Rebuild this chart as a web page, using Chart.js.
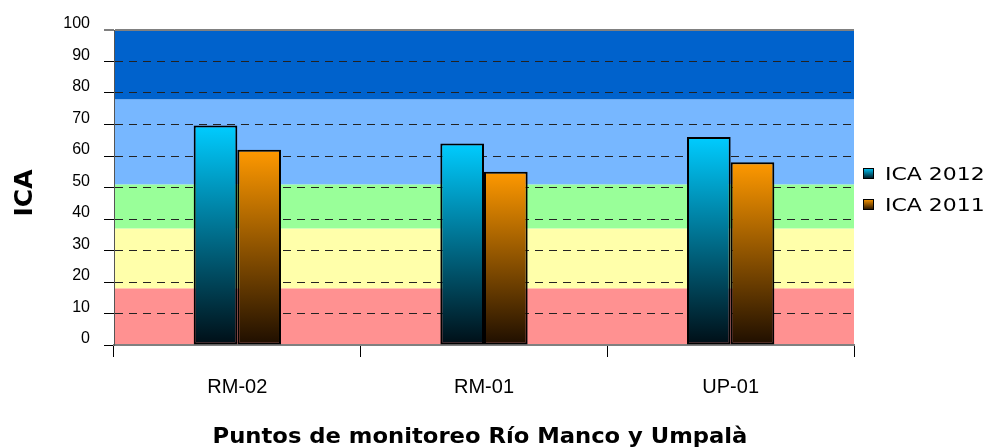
<!DOCTYPE html>
<html lang="es">
<head>
  <meta charset="UTF-8">
  <title>ICA - Puntos de monitoreo</title>
  <script src="https://cdn.jsdelivr.net/npm/chart.js"></script>
  <style>
    html, body { margin: 0; padding: 0; background: #ffffff; }
    #wrap { width: 993px; height: 447px; }
  </style>
</head>
<body>
  <div id="wrap"><canvas id="icaChart" width="993" height="447"></canvas></div>

  <script>
    // Data
    const puntos = ['RM-02', 'RM-01', 'UP-01'];
    const ica2012 = [69.7, 64, 66];
    const ica2011 = [62, 55, 58];
    const yTicks = [0, 10, 20, 30, 40, 50, 60, 70, 80, 90, 100];

    // quality bands behind the bars (ICA ranges)
    const bandEdges = [0, 18, 37, 51, 78, 100];
    const bandColors = ['#FF9191', '#FFFFAA', '#99FF99', '#77B7FF', '#0062CC'];

    const xTitle = 'Puntos de monitoreo Río Manco y Umpalà';
    const yTitle = 'ICA';

    const colors2012 = ['#00CCFF', '#000E16'];
    const colors2011 = ['#FF9900', '#1E0E00'];

    // vertical gradient from the top of each bar to the axis
    function barGradient(stops) {
      return (c) => {
        const chart = c.chart;
        if (!chart.chartArea || !c.parsed) return stops[0];
        const y = chart.scales.y;
        const g = chart.ctx.createLinearGradient(0, y.getPixelForValue(c.parsed.y), 0, y.getPixelForValue(0));
        g.addColorStop(0, stops[0]);
        g.addColorStop(1, stops[1]);
        return g;
      };
    }

    function stretchedText(ctx, text, x, y, font, sx, align) {
      ctx.save();
      ctx.font = font;
      ctx.fillStyle = '#000';
      ctx.textBaseline = 'alphabetic';
      ctx.textAlign = align || 'left';
      ctx.translate(x, y);
      ctx.scale(sx, 1);
      ctx.fillText(text, 0, 0);
      ctx.restore();
    }

    const bandsPlugin = {
      id: 'bands',
      beforeDraw(chart) {
        const { ctx, chartArea: a, scales: { y } } = chart;
        ctx.save();
        for (let i = 0; i < bandColors.length; i++) {
          const top = y.getPixelForValue(bandEdges[i + 1]);
          const bot = y.getPixelForValue(bandEdges[i]);
          ctx.fillStyle = bandColors[i];
          ctx.fillRect(a.left, top, a.right - a.left, bot - top);
        }
        ctx.restore();
      }
    };

    const textPlugin = {
      id: 'texts',
      afterDraw(chart) {
        const ctx = chart.ctx;
        // legend
        chart.data.datasets.forEach((ds, i) => {
          const top = 168 + i * 31;
          const g = ctx.createLinearGradient(0, top, 0, top + 11);
          g.addColorStop(0, ds.legendStops[0]);
          g.addColorStop(1, ds.legendStops[1]);
          ctx.save();
          ctx.fillStyle = g;
          ctx.fillRect(863, top, 11, 11);
          ctx.strokeStyle = '#000';
          ctx.lineWidth = 1;
          ctx.strokeRect(863.5, top + 0.5, 10, 10);
          ctx.restore();
          stretchedText(ctx, ds.label, 885, top + 12, '18px "DejaVu Sans"', 1.22);
        });

        // x axis title
        stretchedText(ctx, xTitle, 480, 443, 'bold 21px "DejaVu Sans"', 1.08, 'center');

        // y axis title, rotated
        ctx.save();
        ctx.translate(32, 193);
        ctx.rotate(-Math.PI / 2);
        ctx.font = 'bold 25px "DejaVu Sans"';
        ctx.fillStyle = '#000';
        ctx.textAlign = 'center';
        ctx.textBaseline = 'alphabetic';
        ctx.fillText(yTitle, 0, 0);
        ctx.restore();
      }
    };

    new Chart(document.getElementById('icaChart'), {
      type: 'bar',
      data: {
        labels: puntos,
        datasets: [
          {
            label: 'ICA 2012',
            data: ica2012,
            backgroundColor: barGradient(colors2012),
            legendStops: colors2012,
            borderColor: '#000',
            borderWidth: 2,
            borderSkipped: false
          },
          {
            label: 'ICA 2011',
            data: ica2011,
            backgroundColor: barGradient(colors2011),
            legendStops: colors2011,
            borderColor: '#000',
            borderWidth: 2,
            borderSkipped: false
          }
        ]
      },
      options: {
        responsive: false,
        animation: false,
        layout: { padding: { top: 30, right: 139, left: 0, bottom: 0 } },
        datasets: { bar: { categoryPercentage: 0.354, barPercentage: 1 } },
        plugins: {
          legend: { display: false },
          tooltip: { enabled: false }
        },
        scales: {
          x: {
            offset: true,
            afterFit: (s) => { s.height = 102; },
            grid: {
              offset: true,
              drawOnChartArea: false,
              drawTicks: true,
              tickLength: 12,
              tickColor: '#000',
              tickWidth: 1
            },
            border: { display: true, color: '#808080', width: 2 },
            ticks: {
              color: '#000',
              padding: 18,
              font: { family: '"Liberation Sans", Arial, sans-serif', size: 20 }
            }
          },
          y: {
            min: 0,
            max: 100,
            afterFit: (s) => { s.width = 114; },
            afterBuildTicks: (s) => { s.ticks = yTicks.map(v => ({ value: v })); },
            grid: {
              color: (c) => c.tick && c.tick.value === 100 ? '#808080' : (c.tick && c.tick.value === 0 ? 'rgba(0,0,0,0)' : '#222'),
              lineWidth: (c) => c.tick && c.tick.value === 100 ? 2 : 1,
              tickLength: 10,
              tickColor: '#000',
              tickWidth: 1
            },
            border: {
              display: true,
              color: '#555',
              width: 1,
              dash: (c) => c.tick && c.tick.value === 100 ? [] : [8, 6]
            },
            ticks: {
              color: '#000',
              padding: 14,
              labelOffset: -6,
              font: { family: '"Liberation Sans", Arial, sans-serif', size: 16 }
            }
          }
        }
      },
      plugins: [bandsPlugin, textPlugin]
    });
  </script>
</body>
</html>
